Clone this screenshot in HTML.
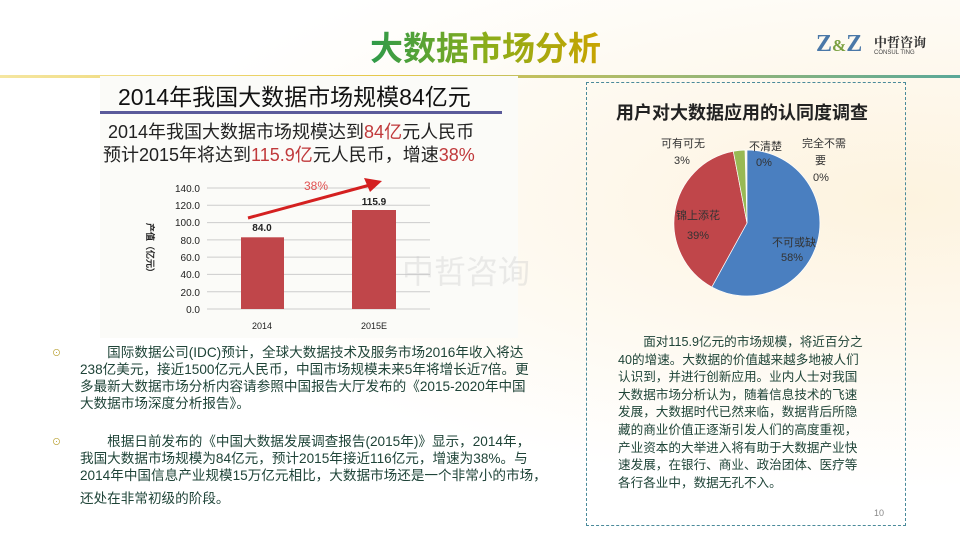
<!DOCTYPE html>
<html><head><meta charset="utf-8"><style>
body{margin:0;width:960px;height:540px;overflow:hidden;background:#fff;font-family:"Liberation Sans","Noto Sans CJK SC",sans-serif;position:relative}
.a{position:absolute;white-space:nowrap}
.t{font-size:13.6px;color:#1f4438;line-height:17px}
</style></head><body>
<div class="a" style="left:0;top:0;width:960px;height:540px;background:radial-gradient(ellipse at 900px 200px,#fdf3df 0,#fff 60%)"></div>
<div class="a" style="left:370px;top:22px;font-size:33px;font-weight:bold;background:linear-gradient(90deg,#2e9a4a,#8aad1a,#c9a400);-webkit-background-clip:text;color:transparent">大数据市场分析</div>
<div class="a" style="left:816px;top:31px;font-family:'Liberation Serif',serif;font-size:24px;font-weight:bold;color:#4a78a8">Z<span style="font-size:17px;color:#7aa040">&amp;</span>Z</div>
<div class="a" style="left:874px;top:32px;font-size:13px;font-weight:bold;color:#333;font-family:'Noto Serif CJK SC',serif">中哲咨询</div>
<div class="a" style="left:874px;top:50px;font-size:6px;color:#444">CONSUL TING</div>
<div class="a" style="left:0;top:75px;width:960px;height:3px;background:linear-gradient(90deg,#f5e6a0,#e6c84a 40%,#5aa898)"></div>

<div class="a" style="left:100px;top:76px;width:418px;height:262px;background:#fbfbf8"></div>
<div class="a" style="left:118px;top:78px;font-size:23px;color:#111">2014年我国大数据市场规模84亿元</div>
<div class="a" style="left:100px;top:111px;width:402px;height:3px;background:#5a5a9a"></div>
<div class="a" style="left:108px;top:121px;font-size:18px;color:#222;line-height:23px">2014年我国大数据市场规模达到<span style="color:#c0393b">84亿</span>元人民币</div>
<div class="a" style="left:103px;top:144px;font-size:18px;color:#222;line-height:23px">预计2015年将达到<span style="color:#c0393b">115.9亿</span>元人民币，增速<span style="color:#c0393b">38%</span></div>
<svg class="a" style="left:100px;top:170px" width="340" height="170" font-family="Liberation Sans" font-size="10">
<g stroke="#ccc" stroke-width="1">
<line x1="107" y1="18" x2="330" y2="18"/><line x1="107" y1="35.3" x2="330" y2="35.3"/><line x1="107" y1="52.6" x2="330" y2="52.6"/><line x1="107" y1="69.9" x2="330" y2="69.9"/><line x1="107" y1="87.1" x2="330" y2="87.1"/><line x1="107" y1="104.4" x2="330" y2="104.4"/><line x1="107" y1="121.7" x2="330" y2="121.7"/><line x1="107" y1="139" x2="330" y2="139"/></g>
<g fill="#222" text-anchor="end"><text x="100" y="22">140.0</text><text x="100" y="39">120.0</text><text x="100" y="56">100.0</text><text x="100" y="74">80.0</text><text x="100" y="91">60.0</text><text x="100" y="108">40.0</text><text x="100" y="126">20.0</text><text x="100" y="143">0.0</text></g>
<rect x="141" y="67.3" width="43" height="71.7" fill="#c0464a"/>
<rect x="252" y="40" width="44" height="99" fill="#c0464a"/>
<text x="162" y="61" text-anchor="middle" font-weight="bold" fill="#222">84.0</text>
<text x="274" y="35" text-anchor="middle" font-weight="bold" fill="#222">115.9</text>
<text x="162" y="159" text-anchor="middle" fill="#222" font-size="9">2014</text>
<text x="274" y="159" text-anchor="middle" fill="#222" font-size="9">2015E</text>
<text x="216" y="20" text-anchor="middle" fill="#e05050" font-size="12">38%</text>
<line x1="148" y1="48" x2="270" y2="15" stroke="#d42020" stroke-width="3"/>
<polygon points="282,11 264,8 270,22" fill="#d42020"/>
<text transform="translate(47,80) rotate(90)" text-anchor="middle" font-size="9" font-weight="bold" fill="#222">产值（亿元）</text>
</svg>
<div class="a" style="left:402px;top:247px;font-size:32px;color:rgba(200,200,200,0.35)">中哲咨询</div>

<div class="a" style="left:586px;top:82px;width:318px;height:442px;border:1px dashed #4a8a9a"></div>
<div class="a" style="left:616px;top:99px;font-size:18px;font-weight:bold;color:#222">用户对大数据应用的认同度调查</div>
<svg class="a" style="left:650px;top:130px" width="210" height="190" font-family="Liberation Sans,Noto Sans CJK SC" font-size="11">
<g transform="translate(-650,-130)">
<path d="M747,223 L747,150 A73,73 0 1,1 711.8,287 Z" fill="#4a7fc0" stroke="#fff" stroke-width="0.7"/>
<path d="M747,223 L711.8,287 A73,73 0 0,1 733.3,151.3 Z" fill="#c0464a" stroke="#fff" stroke-width="0.7"/>
<path d="M747,223 L733.3,151.3 A73,73 0 0,1 745,150 Z" fill="#98b954" stroke="#fff" stroke-width="0.7"/>
<g fill="#333"><text x="661" y="147">可有可无</text><text x="674" y="164">3%</text>
<text x="749" y="150">不清楚</text><text x="756" y="166">0%</text>
<text x="802" y="147">完全不需</text><text x="815" y="164">要</text><text x="813" y="181">0%</text>
<text x="676" y="219">锦上添花</text><text x="687" y="239">39%</text>
<text x="772" y="246">不可或缺</text><text x="781" y="261">58%</text></g>
</g></svg>
<div class="a t" style="left:618px;top:334px;line-height:17.6px;font-size:12.6px">　　面对115.9亿元的市场规模，将近百分之<br>40的增速。大数据的价值越来越多地被人们<br>认识到，并进行创新应用。业内人士对我国<br>大数据市场分析认为，随着信息技术的飞速<br>发展，大数据时代已然来临，数据背后所隐<br>藏的商业价值正逐渐引发人们的高度重视，<br>产业资本的大举进入将有助于大数据产业快<br>速发展，在银行、商业、政治团体、医疗等<br>各行各业中，数据无孔不入。</div>
<div class="a" style="left:874px;top:508px;font-size:9px;color:#888">10</div>

<div class="a" style="left:52px;top:346px;font-size:9px;color:#b8a030">⊙</div>
<div class="a t" style="left:80px;top:344px">　　国际数据公司(IDC)预计，全球大数据技术及服务市场2016年收入将达<br>238亿美元，接近1500亿元人民币，中国市场规模未来5年将增长近7倍。更<br>多最新大数据市场分析内容请参照中国报告大厅发布的《2015-2020年中国<br>大数据市场深度分析报告》。</div>
<div class="a" style="left:52px;top:435px;font-size:9px;color:#b8a030">⊙</div>
<div class="a t" style="left:80px;top:433px">　　根据日前发布的《中国大数据发展调查报告(2015年)》显示，2014年，<br>我国大数据市场规模为84亿元，预计2015年接近116亿元，增速为38%。与<br>2014年中国信息产业规模15万亿元相比，大数据市场还是一个非常小的市场，<br><span style="display:inline-block;margin-top:6px">还处在非常初级的阶段。</span></div>
</body></html>
